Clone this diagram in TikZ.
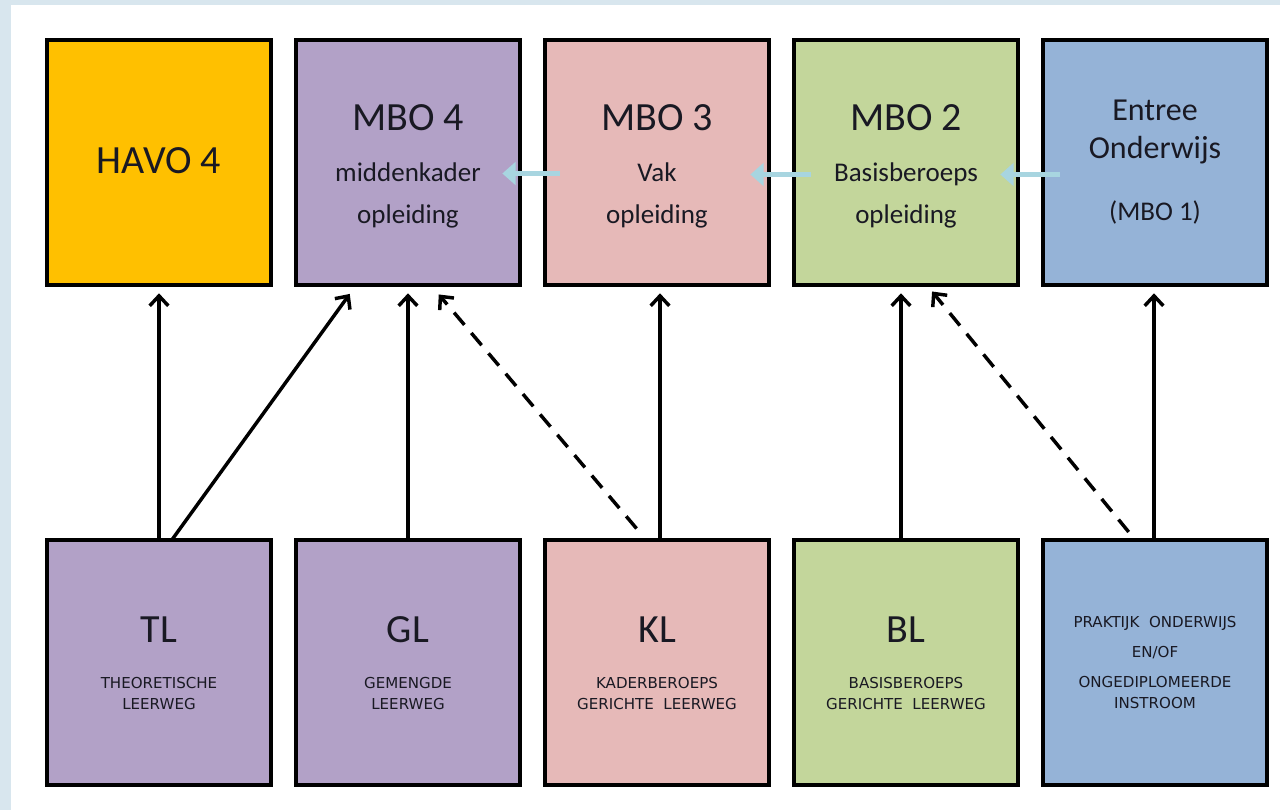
\documentclass[tikz,border=0pt]{standalone}
\usepackage{fontspec}
\setmainfont{Carlito}
\newfontfamily\capsfont{DejaVu Sans}
\usetikzlibrary{arrows.meta,calc}
\definecolor{bgblue}{RGB}{216,230,238}
\definecolor{havoc}{RGB}{255,192,0}
\definecolor{lavc}{RGB}{178,161,199}
\definecolor{pinkc}{RGB}{230,185,184}
\definecolor{greenc}{RGB}{195,214,155}
\definecolor{bluec}{RGB}{149,179,215}
\definecolor{arrowblue}{RGB}{168,213,224}
\definecolor{txt}{RGB}{25,25,35}
\begin{document}
\begin{tikzpicture}[x=0.75pt,y=-0.75pt,
  box/.style={draw=black,line width=2.9pt,minimum width=168.5pt,minimum height=184.2pt,inner sep=0pt,outer sep=0pt},
  big/.style={anchor=base,font=\fontsize{30}{36}\selectfont,text=txt,inner sep=0pt},
  ent/.style={anchor=base,font=\fontsize{24}{29}\selectfont,text=txt,inner sep=0pt},
  mid/.style={anchor=base,font=\fontsize{20.25}{24}\selectfont,text=txt,inner sep=0pt},
  small/.style={anchor=base,font=\capsfont\fontsize{11.3}{13}\selectfont,text=txt,inner sep=0pt},
  uparrow/.style={line width=2.6pt,-{Straight Barb[length=7.5pt,width=14pt,line width=2.6pt]}},
  dasharrow/.style={uparrow,dash pattern=on 12pt off 8pt},
  sidearrow/.style={draw=arrowblue,line width=4.3pt,-{Triangle[length=10pt,width=17pt]}}
]
\useasboundingbox (0,0) rectangle (1280,810);
\fill[bgblue] (0,0) rectangle (1280,810);
\fill[white] (11,5) rectangle (1280,810);

% top row
\node[box,fill=havoc]  (havo)   at (159,162.5) {};
\node[box,fill=lavc]   (mbo4)   at (408,162.5) {};
\node[box,fill=pinkc]  (mbo3)   at (657,162.5) {};
\node[box,fill=greenc] (mbo2)   at (906,162.5) {};
\node[box,fill=bluec]  (entree) at (1155,162.5) {};
% bottom row
\node[box,fill=lavc]   (tl)   at (159,662.5) {};
\node[box,fill=lavc]   (gl)   at (408,662.5) {};
\node[box,fill=pinkc]  (kl)   at (657,662.5) {};
\node[box,fill=greenc] (bl)   at (906,662.5) {};
\node[box,fill=bluec]  (prak) at (1155,662.5) {};

% top texts
\node[big] (havoA) at ($(havo.center)+(0,10.5)$) {HAVO 4};
\node[big] (mbo4A) at ($(mbo4.center)+(0,-32.5)$) {MBO 4};
\node[mid] (mbo4B) at ($(mbo4.center)+(0,18.5)$) {middenkader};
\node[mid] (mbo4C) at ($(mbo4.center)+(0,60.5)$) {opleiding};
\node[big] (mbo3A) at ($(mbo3.center)+(0,-32.5)$) {MBO 3};
\node[mid] (mbo3B) at ($(mbo3.center)+(0,18.5)$) {Vak};
\node[mid] (mbo3C) at ($(mbo3.center)+(0,60.5)$) {opleiding};
\node[big] (mbo2A) at ($(mbo2.center)+(0,-32.5)$) {MBO 2};
\node[mid] (mbo2B) at ($(mbo2.center)+(0,18.5)$) {Basisberoeps};
\node[mid] (mbo2C) at ($(mbo2.center)+(0,60.5)$) {opleiding};
\node[ent] (entA) at ($(entree.center)+(0,-42.5)$) {Entree};
\node[ent] (entB) at ($(entree.center)+(0,-4.5)$) {Onderwijs};
\node[mid] (entC) at ($(entree.center)+(0,57.5)$) {(MBO 1)};

% bottom texts
\node[big] (tlA) at ($(tl.center)+(0,-20.5)$) {TL};
\node[small] (tlB) at ($(tl.center)+(0,25.5)$) {THEORETISCHE};
\node[small] (tlC) at ($(tl.center)+(0,46.5)$) {LEERWEG};
\node[big] (glA) at ($(gl.center)+(0,-20.5)$) {GL};
\node[small] (glB) at ($(gl.center)+(0,25.5)$) {GEMENGDE};
\node[small] (glC) at ($(gl.center)+(0,46.5)$) {LEERWEG};
\node[big] (klA) at ($(kl.center)+(0,-20.5)$) {KL};
\node[small] (klB) at ($(kl.center)+(0,25.5)$) {KADERBEROEPS};
\node[small] (klC) at ($(kl.center)+(0,46.5)$) {GERICHTE~~LEERWEG};
\node[big] (blA) at ($(bl.center)+(0,-20.5)$) {BL};
\node[small] (blB) at ($(bl.center)+(0,25.5)$) {BASISBEROEPS};
\node[small] (blC) at ($(bl.center)+(0,46.5)$) {GERICHTE~~LEERWEG};
\node[small] (prA) at ($(prak.center)+(0,-35.5)$) {PRAKTIJK~~ONDERWIJS};
\node[small] (prB) at ($(prak.center)+(0,-5.5)$) {EN/OF};
\node[small] (prC) at ($(prak.center)+(0,24.5)$) {ONGEDIPLOMEERDE};
\node[small] (prD) at ($(prak.center)+(0,45.5)$) {INSTROOM};

% upward arrows
\draw[uparrow,shorten >=6pt] (tl.north) -- (havo.south);
\draw[uparrow,shorten >=8pt] ($(tl.north)+(13,0)$) -- ($(mbo4.south)+(-52,0)$);
\draw[uparrow,shorten >=6pt] (gl.north) -- (mbo4.south);
\draw[dasharrow,shorten <=11pt,shorten >=9pt] ($(kl.north)+(-11,0)$) -- ($(mbo4.south)+(23,0)$);
\draw[uparrow,shorten >=6pt] ($(kl.north)+(3,0)$) -- ($(mbo3.south)+(3,0)$);
\draw[uparrow,shorten >=6pt] ($(bl.north)+(-5,0)$) -- ($(mbo2.south)+(-5,0)$);
\draw[dasharrow,shorten <=7.5pt,shorten >=6pt] ($(prak.north)+(-20,0)$) -- ($(mbo2.south)+(21,0)$);
\draw[uparrow,shorten >=6pt] ($(prak.north)+(-1,0)$) -- ($(entree.south)+(-1,0)$);

% light blue side arrows
\draw[sidearrow] ($(mbo3.west)+(15,11)$) -- ($(mbo4.east)+(-18,11)$);
\draw[sidearrow] ($(mbo2.west)+(17,12)$) -- ($(mbo3.east)+(-19,12)$);
\draw[sidearrow] ($(entree.west)+(17,12)$) -- ($(mbo2.east)+(-18,12)$);
\end{tikzpicture}
\end{document}
